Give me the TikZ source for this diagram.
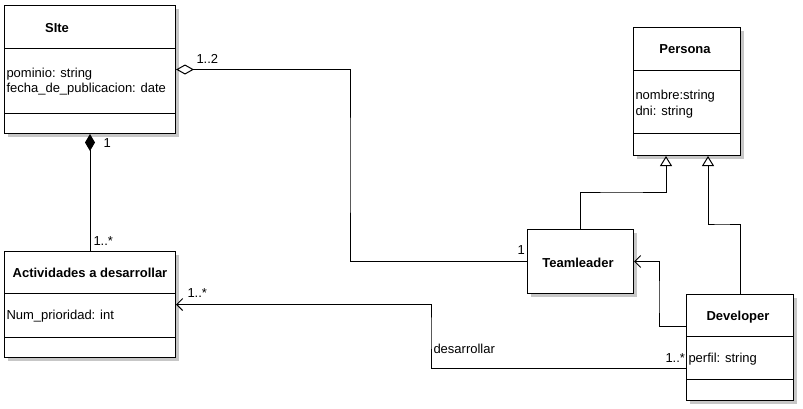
\documentclass[tikz,border=0pt]{standalone}
\usepackage{fontspec}
\setmainfont{Liberation Sans}
\usetikzlibrary{arrows.meta,shadows}
\begin{document}
\begin{tikzpicture}[x=1pt,y=-1pt,line width=1pt,
  cls/.style={draw=black, fill=white, anchor=north west, inner sep=0pt,
    drop shadow={shadow xshift=3pt, shadow yshift=-3pt, fill=black!22, opacity=1}},
  lbl/.style={anchor=base west, inner sep=0pt, font=\fontsize{13}{15}\selectfont},
  ttl/.style={anchor=base, inner sep=0pt, font=\fontsize{13}{15}\selectfont\bfseries},
  aggr/.style={{Diamond[fill=white,length=18pt,width=10pt]}-},
  comp/.style={{Diamond[length=17pt,width=10pt]}-},
  nav/.style={-{Straight Barb[length=6pt,width=12pt]}},
  gen/.style={-{Triangle[fill=white,length=10pt,width=12pt]}}
]
\useasboundingbox (0,0) rectangle (803,408);
% classes
\node[cls, minimum width=171pt, minimum height=128pt] (site) at (4,5) {};
\node[cls, minimum width=171pt, minimum height=106pt] (act) at (4,251) {};
\node[cls, minimum width=107pt, minimum height=128pt] (per) at (633,27) {};
\node[cls, minimum width=106pt, minimum height=64pt] (tl) at (527,229) {};
\node[cls, minimum width=107pt, minimum height=106pt] (dev) at (686,294) {};
% compartments
\draw (site.west |- 0,48) -- (site.east |- 0,48);
\draw (site.west |- 0,113) -- (site.east |- 0,113);
\draw (act.west |- 0,293) -- (act.east |- 0,293);
\draw (act.west |- 0,337) -- (act.east |- 0,337);
\draw (per.west |- 0,70) -- (per.east |- 0,70);
\draw (per.west |- 0,133) -- (per.east |- 0,133);
\draw (dev.west |- 0,336) -- (dev.east |- 0,336);
\draw (dev.west |- 0,379) -- (dev.east |- 0,379);
% titles
\node[ttl] (tsite) at (57,32) {SIte};
\node[ttl] (tact) at (90,277) {Actividades a desarrollar};
\node[ttl] (tper) at (685,53) {Persona};
\node[ttl] (ttl) at (578,267) {Teamleader};
\node[ttl] (tdev) at (738,320) {Developer};
% attributes
\node[lbl] (a1) at (6,77) {pominio: string};
\node[lbl] (a2) at (6,92) {fecha\_de\_publicacion: date};
\node[lbl] (a3) at (6,319) {Num\_prioridad: int};
\node[lbl] (a4) at (635,99) {nombre:string};
\node[lbl] (a5) at (635,115) {dni: string};
\node[lbl] (a6) at (688,362) {perfil: string};
% connectors
\coordinate (c1) at (350,165);
\draw[aggr] (site.east) -| (c1) |- (tl.west);
\draw[comp] (site.south) -- (act.north);
\coordinate (c2) at (431,330);
\draw[nav] ([yshift=-21pt]dev.west) -| (c2) |- (act.east);
\coordinate (c3) at (659,300);
\draw[nav] ([yshift=21pt]dev.west) -| (c3) |- (tl.east);
\coordinate (p1) at ([xshift=-21pt]per.south);
\coordinate (p2) at ([xshift=21pt]per.south);
\coordinate (c4) at (620,192);
\coordinate (c5) at (720,224);
\draw[gen] (tl.north) |- (c4) -| (p1);
\draw[gen] (dev.north) |- (c5) -| (p2);
% multiplicities
\node[lbl] (m1) at (196,63) {1..2};
\node[lbl] (m2) at (103,147) {1};
\node[lbl] (m3) at (93,245) {1..*};
\node[lbl] (m4) at (187,297) {1..*};
\node[lbl] (m5) at (433,353) {desarrollar};
\node[lbl] (m6) at (665,362) {1..*};
\node[lbl] (m7) at (517,254) {1};
\end{tikzpicture}
\end{document}
